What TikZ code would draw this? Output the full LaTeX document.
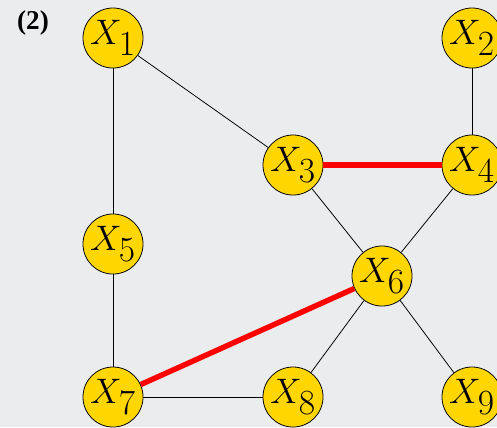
\documentclass[tikz,border=0pt]{standalone}
\usepackage{fontspec}
\usepackage{graphicx}
\usepackage{tikz}
\newfontfamily\tagfont{Liberation Serif}
\definecolor{nodegold}{RGB}{255,214,0}
\definecolor{paper}{RGB}{234,236,238}
\definecolor{hilite}{RGB}{255,0,0}
\newcommand{\vx}[1]{\scalebox{1.1}{$X_{\textstyle #1}$}}

\begin{document}
\begin{tikzpicture}[x=0.773pt, y=-0.773pt,
    vertex/.style={circle, draw=black, line width=0.6pt, fill=nodegold,
      minimum size=46.4pt, inner sep=0pt, font=\Huge},
    edge/.style={line width=0.6pt, black},
    redge/.style={line width=4.2pt, hilite}]
  \clip (0,0) rectangle (497,427);
  \fill[paper] (0,0) rectangle (497,427);
  \node[font=\fontsize{21}{21}\selectfont\tagfont] (tag) at (33,23) {\textbf{(2)}};
  % vertices
  \node[vertex] (x1) at (113,38) {\vx{1}};
  \node[vertex] (x2) at (472,38) {\vx{2}};
  \node[vertex] (x3) at (293,165) {\vx{3}};
  \node[vertex] (x4) at (472,165) {\vx{4}};
  \node[vertex] (x5) at (113,244) {\vx{5}};
  \node[vertex] (x6) at (382,276) {\vx{6}};
  \node[vertex] (x7) at (113,397) {\vx{7}};
  \node[vertex] (x8) at (293,397) {\vx{8}};
  \node[vertex] (x9) at (472,397) {\vx{9}};
  % edges
  \draw[edge] (x1) -- (x3);
  \draw[edge] (x1) -- (x5);
  \draw[edge] (x2) -- (x4);
  \draw[edge] (x3) -- (x6);
  \draw[edge] (x4) -- (x6);
  \draw[edge] (x5) -- (x7);
  \draw[edge] (x6) -- (x8);
  \draw[edge] (x6) -- (x9);
  \draw[edge] (x7) -- (x8);
  \draw[redge] (x3) -- (x4);
  \draw[redge] (x7) -- (x6);
\end{tikzpicture}
\end{document}
